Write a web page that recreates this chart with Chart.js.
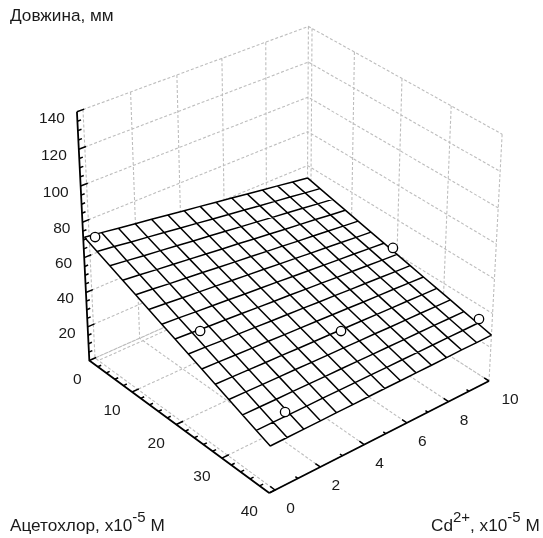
<!DOCTYPE html>
<html>
<head>
<meta charset="utf-8">
<title>Довжина, мм</title>
<script src="https://cdn.jsdelivr.net/npm/chart.js@4/dist/chart.umd.min.js"></script>
<style>
  html, body { margin: 0; padding: 0; background: #fff; }
  canvas { display: block; }
</style>
</head>
<body>
<canvas id="chart" width="543" height="538"></canvas>
<script>
// axis ticks
const cdTicks = [0, 2, 4, 6, 8, 10];
const cdMinorTicks = [1, 3, 5, 7, 9];
const acTicks = [0, 10, 20, 30, 40];
const acMinorTicks = [2, 4, 6, 8, 12, 14, 16, 18, 22, 24, 26, 28, 32, 34, 36, 38];
const lenTicks = [20, 40, 60, 80, 100, 120, 140];
const lenMinorTicks = [5, 10, 15, 25, 30, 35, 45, 50, 55, 65, 70, 75, 85, 90, 95, 105, 110, 115, 125, 130, 135];

// fitted surface
const gridCd = [-0.2, 0.53, 1.26, 1.99, 2.71, 3.44, 4.17, 4.9, 5.63, 6.36, 7.09, 7.81, 8.54, 9.27, 10];
const gridAc = [0, 2.86, 5.71, 8.57, 11.43, 14.29, 17.14, 20, 22.86, 25.71, 28.57, 31.43, 34.29, 37.14, 40];
const gridLen = [
  [71.3, 70.0, 68.6, 67.3, 66.0, 64.6, 63.3, 62.0, 60.6, 59.3, 57.9, 56.6, 55.3, 53.9, 52.6],
  [68.1, 66.9, 65.6, 64.4, 63.2, 61.9, 60.7, 59.4, 58.2, 57.0, 55.7, 54.5, 53.3, 52.0, 50.8],
  [64.9, 63.8, 62.6, 61.5, 60.4, 59.2, 58.1, 57.0, 55.8, 54.7, 53.5, 52.4, 51.3, 50.1, 49.0],
  [61.7, 60.7, 59.6, 58.6, 57.6, 56.5, 55.5, 54.5, 53.4, 52.4, 51.3, 50.3, 49.3, 48.2, 47.2],
  [58.5, 57.6, 56.6, 55.7, 54.8, 53.8, 52.9, 52.0, 51.0, 50.1, 49.1, 48.2, 47.3, 46.3, 45.4],
  [55.3, 54.5, 53.6, 52.8, 52.0, 51.1, 50.3, 49.5, 48.6, 47.8, 46.9, 46.1, 45.3, 44.4, 43.6],
  [52.1, 51.4, 50.6, 49.9, 49.2, 48.4, 47.7, 47.0, 46.2, 45.5, 44.7, 44.0, 43.3, 42.5, 41.8],
  [48.9, 48.3, 47.6, 47.0, 46.4, 45.7, 45.1, 44.5, 43.8, 43.2, 42.5, 41.9, 41.3, 40.6, 40.0],
  [45.7, 45.2, 44.6, 44.1, 43.6, 43.0, 42.5, 42.0, 41.4, 40.9, 40.3, 39.8, 39.3, 38.7, 38.2],
  [42.5, 42.1, 41.6, 41.2, 40.8, 40.3, 39.9, 39.5, 39.0, 38.6, 38.1, 37.7, 37.3, 36.8, 36.4],
  [39.3, 39.0, 38.6, 38.3, 38.0, 37.6, 37.3, 37.0, 36.6, 36.3, 35.9, 35.6, 35.3, 34.9, 34.6],
  [36.1, 35.9, 35.6, 35.4, 35.2, 34.9, 34.7, 34.5, 34.2, 34.0, 33.7, 33.5, 33.3, 33.0, 32.8],
  [32.9, 32.8, 32.6, 32.5, 32.4, 32.2, 32.1, 32.0, 31.8, 31.7, 31.5, 31.4, 31.3, 31.1, 31.0],
  [29.7, 29.7, 29.6, 29.6, 29.6, 29.5, 29.5, 29.5, 29.4, 29.4, 29.3, 29.3, 29.3, 29.2, 29.2],
  [26.5, 26.6, 26.6, 26.7, 26.8, 26.8, 26.9, 27.0, 27.0, 27.1, 27.1, 27.2, 27.3, 27.3, 27.4]
];

// measured points
const pointCd = [0.25, 0.88, 0.44, 10, 5, 9.33];
const pointAc = [0, 20, 40, 19.1, 30.4, 40];
const pointLen = [69, 47.1, 41.5, 42.3, 41.7, 40.7];

const CD_MAX = 10, AC_MAX = 40, LEN_MAX = 140;
const AXIS_CD = -0.25;

// camera of the 3D view: (Cd/10, Ac/40, Len/140, 1) -> homogeneous page position
const CAMERA = [
  [232.47, 161.84, -17, 95],
  [-76.4, 99.64, -255, 358],
  [0.06667, -0.06605, -0.06, 1]
];

function project(cd, ac, len) {
  const v = [cd / CD_MAX, ac / AC_MAX, len / LEN_MAX, 1];
  const row = r => r[0] * v[0] + r[1] * v[1] + r[2] * v[2] + r[3] * v[3];
  const w = row(CAMERA[2]);
  return { x: row(CAMERA[0]) / w, y: row(CAMERA[1]) / w };
}

// polylines joined into one dataset, NaN leaves a gap
function joined(lines) {
  const out = [];
  lines.forEach(line => {
    line.forEach(p => out.push(project(p[0], p[1], p[2])));
    out.push({ x: NaN, y: NaN });
  });
  return out;
}

// grey box walls and floor
const wallLines = [];
[0].concat(lenTicks).forEach(z => {
  wallLines.push([[0, 0, z], [CD_MAX, 0, z], [CD_MAX, AC_MAX, z]]);
});
cdTicks.forEach(c => wallLines.push([[c, 0, LEN_MAX], [c, 0, 0], [c, AC_MAX, 0]]));
acTicks.forEach(a => wallLines.push([[CD_MAX, a, LEN_MAX], [CD_MAX, a, 0], [0, a, 0]]));
wallLines.push([[CD_MAX, 0.8, LEN_MAX], [CD_MAX, 0.8, 0], [0, 0.8, 0]]);

// surface mesh
const meshLines = [];
gridLen.forEach((row, j) => {
  meshLines.push(row.map((z, i) => [gridCd[i], gridAc[j], z]));
});
gridCd.forEach((c, i) => {
  meshLines.push(gridAc.map((a, j) => [c, a, gridLen[j][i]]));
});

const last = gridCd.length - 1;
const outline = []
  .concat(gridLen[0].map((z, i) => project(gridCd[i], gridAc[0], z)))
  .concat(gridLen.map((r, j) => project(gridCd[last], gridAc[j], r[last])))
  .concat(gridLen[last].map((z, i) => project(gridCd[last - i], gridAc[last], gridLen[last][last - i])))
  .concat(gridLen.map((r, j) => project(gridCd[0], gridAc[last - j], gridLen[last - j][0])));

// axes and tick marks
const axisLines = [
  [[AXIS_CD, 0, LEN_MAX], [AXIS_CD, 0, 0], [AXIS_CD, AC_MAX, 0]],
  [[AXIS_CD, AC_MAX, 0], [CD_MAX, AC_MAX, 0]]
];
const tickLines = [];
[0].concat(lenTicks).forEach(z => tickLines.push([[AXIS_CD, 0, z], [0.05, 0, z]]));
lenMinorTicks.forEach(z => tickLines.push([[AXIS_CD, 0, z], [-0.1, 0, z]]));
acTicks.forEach(a => tickLines.push([[AXIS_CD, a, 0], [0.05, a, 0]]));
acMinorTicks.forEach(a => tickLines.push([[AXIS_CD, a, 0], [-0.1, a, 0]]));
cdTicks.forEach(c => tickLines.push([[c, AC_MAX, 0], [c, AC_MAX - 1, 0]]));
cdMinorTicks.forEach(c => tickLines.push([[c, AC_MAX, 0], [c, AC_MAX - 0.5, 0]]));

const TICK_FONT = '15.5px "Liberation Sans", Arial, sans-serif';
const TITLE_FONT = '17.2px "Liberation Sans", Arial, sans-serif';
const SUP_FONT = '15px "Liberation Sans", Arial, sans-serif';

function runs(ctx, x, y, parts) {
  parts.forEach(p => {
    ctx.font = p.sup ? SUP_FONT : TITLE_FONT;
    ctx.fillText(p.text, x, y - (p.sup ? 9.5 : 0));
    x += ctx.measureText(p.text).width;
  });
}

const textPlugin = {
  id: 'axisText',
  afterDatasetsDraw(chart) {
    const ctx = chart.ctx;
    const sx = chart.scales.x, sy = chart.scales.y;
    const at = (c, a, z) => {
      const p = project(c, a, z);
      return [sx.getPixelForValue(p.x), sy.getPixelForValue(p.y)];
    };
    ctx.save();
    ctx.fillStyle = '#1a1a1a';
    ctx.font = TICK_FONT;
    ctx.textBaseline = 'middle';

    ctx.textAlign = 'right';
    lenTicks.forEach(z => {
      const p = at(AXIS_CD, 0, z);
      ctx.fillText(String(z), p[0] - 12, p[1] + 6.5);
    });

    ctx.textAlign = 'center';
    acTicks.forEach(a => {
      const p = at(AXIS_CD, a, 0);
      ctx.fillText(String(a), p[0] + (a === 0 ? -12 : -20), p[1] + 19);
    });
    cdTicks.forEach(c => {
      const p = at(c, AC_MAX, 0);
      ctx.fillText(String(c), p[0] + (c === 10 ? 21 : 15.5), p[1] + 19);
    });

    ctx.textAlign = 'left';
    ctx.textBaseline = 'alphabetic';
    ctx.font = TITLE_FONT;
    ctx.fillText('Довжина, мм', 10, 21);
    runs(ctx, 10, 531, [{ text: 'Ацетохлор, x10' }, { text: '-5', sup: true }, { text: ' M' }]);
    runs(ctx, 431, 531, [{ text: 'Cd' }, { text: '2+', sup: true }, { text: ', x10' }, { text: '-5', sup: true }, { text: ' M' }]);
    ctx.restore();
  }
};

function lineSet(label, data, color, width, order, dash) {
  return {
    label: label,
    data: data,
    showLine: true,
    spanGaps: false,
    pointRadius: 0,
    borderColor: color,
    borderWidth: width,
    borderDash: dash || [],
    fill: false,
    order: order
  };
}

new Chart(document.getElementById('chart').getContext('2d'), {
  type: 'scatter',
  data: {
    datasets: [
      lineSet('walls', joined(wallLines), '#bdbdbd', 1.1, 5, [3, 2]),
      {
        label: 'surface fill',
        data: outline,
        showLine: true,
        pointRadius: 0,
        borderWidth: 0,
        borderColor: 'rgba(0,0,0,0)',
        backgroundColor: '#fff',
        fill: 'shape',
        order: 4
      },
      lineSet('mesh', joined(meshLines), '#000', 1.5, 3),
      lineSet('axes', joined(axisLines), '#000', 1.8, 2),
      lineSet('ticks', joined(tickLines), '#000', 1.5, 2),
      {
        label: 'points',
        data: pointCd.map((c, i) => project(c, pointAc[i], pointLen[i])),
        showLine: false,
        pointRadius: 4.7,
        pointBorderWidth: 1.3,
        pointBorderColor: '#000',
        pointBackgroundColor: '#fff',
        order: 1
      }
    ]
  },
  options: {
    responsive: false,
    animation: false,
    layout: { padding: 0, autoPadding: false },
    scales: {
      x: { type: 'linear', min: 0, max: 543, display: false },
      y: { type: 'linear', min: 0, max: 538, reverse: true, display: false }
    },
    plugins: {
      legend: { display: false },
      tooltip: { enabled: false }
    }
  },
  plugins: [textPlugin]
});
</script>
</body>
</html>
